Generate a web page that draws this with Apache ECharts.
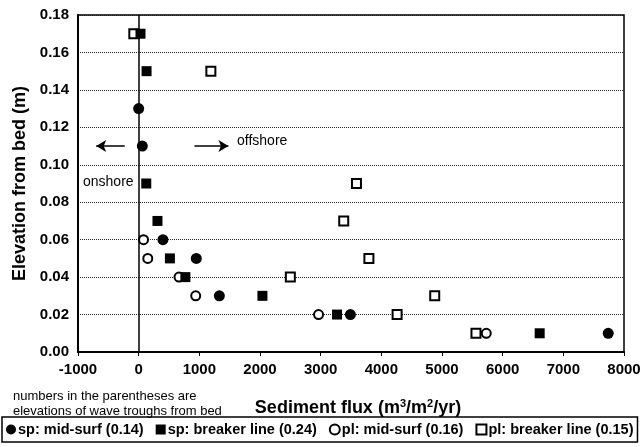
<!DOCTYPE html>
<html>
<head>
<meta charset="utf-8">
<title>Sediment flux vs elevation</title>
<script src="https://cdn.jsdelivr.net/npm/echarts@6/dist/echarts.min.js"></script>
<style>
  html, body { margin: 0; padding: 0; background: #fff; }
  #chart { width: 644px; height: 447px; }
</style>
</head>
<body>
<div id="chart"></div>
<script>
// data: [flux, elevation]
var spMid = [[0, 0.13], [60, 0.11], [400, 0.06], [950, 0.05], [1330, 0.03], [3490, 0.02], [7740, 0.01]];
var spBreaker = [[30, 0.17], [130, 0.15], [125, 0.09], [310, 0.07], [515, 0.05], [770, 0.04], [2040, 0.03], [3270, 0.02], [6610, 0.01]];
var plMid = [[80, 0.06], [150, 0.05], [665, 0.04], [940, 0.03], [2965, 0.02], [5730, 0.01]];
var plBreaker = [[-80, 0.17], [1190, 0.15], [3590, 0.09], [3380, 0.07], [3795, 0.05], [2500, 0.04], [4880, 0.03], [4260, 0.02], [5560, 0.01]];
var seriesNames = ['sp: mid-surf (0.14)', 'sp: breaker line (0.24)', 'pl: mid-surf (0.16)', 'pl: breaker line (0.15)'];

var chart = echarts.init(document.getElementById('chart'));
var font = 'Arial, "Liberation Sans", sans-serif';

var option = {
    animation: false,
    textStyle: { fontFamily: font },
    grid: { left: 78, right: 20, top: 15, bottom: 95, show: true, borderColor: '#000', borderWidth: 1.5 },
    xAxis: {
        type: 'value', min: -1000, max: 8000, interval: 1000,
        name: '{b|Sediment flux (m}{s|3}{b|/m}{s|2}{b|/yr)}',
        nameLocation: 'middle', nameGap: 46,
        nameTextStyle: {
            padding: [0, 0, 0, 14],
            rich: {
                b: { fontSize: 18, fontWeight: 'bold', color: '#000', fontFamily: font },
                s: { fontSize: 11, fontWeight: 'bold', color: '#000', fontFamily: font, verticalAlign: 'top', padding: [0, 0, 9, 0] }
            }
        },
        axisLine: { onZero: false, lineStyle: { color: '#000', width: 2 } },
        axisTick: { show: true, length: 4, lineStyle: { color: '#000' } },
        axisLabel: { color: '#000', fontSize: 15, fontWeight: 'bold', margin: 10,
            formatter: function (v) { return String(v); } },
        splitLine: { show: false }
    },
    yAxis: {
        type: 'value', min: 0, max: 0.18, interval: 0.02,
        name: 'Elevation from bed (m)', nameLocation: 'middle', nameGap: 44,
        nameTextStyle: { fontSize: 18, fontWeight: 'bold', color: '#000' },
        axisLine: { onZero: false, lineStyle: { color: '#000', width: 2 } },
        axisTick: { show: false },
        axisLabel: { color: '#000', fontSize: 15, fontWeight: 'bold', margin: 9,
            formatter: function (v) { return v.toFixed(2); } },
        splitLine: { show: true, lineStyle: { color: '#222', type: 'dotted', width: 1 } }
    },
    legend: {
        left: 2, top: 417, width: 640,
        padding: [5, 4, 5, 4], itemGap: 12, itemWidth: 10, itemHeight: 10,
        borderColor: '#000', borderWidth: 1.5,
        textStyle: { fontSize: 14.5, fontWeight: 'bold', color: '#000', padding: [0, 0, 0, -3] },
        data: seriesNames
    },
    series: [
        {
            name: seriesNames[0], type: 'scatter', data: spMid,
            symbol: 'circle', symbolSize: 11,
            itemStyle: { color: '#000', opacity: 1 },
            z: 5,
            markLine: {
                silent: true, symbol: ['none', 'none'], label: { show: false },
                lineStyle: { color: '#000', type: 'solid', width: 1.5 },
                data: [{ xAxis: 0 }]
            }
        },
        {
            name: seriesNames[1], type: 'scatter', data: spBreaker,
            symbol: 'rect', symbolSize: 10,
            itemStyle: { color: '#000', opacity: 1 },
            z: 5,
            markLine: {
                silent: true, label: { show: false }, symbol: ['none', 'arrow'], symbolSize: [9, 10],
                lineStyle: { color: '#000', type: 'solid', width: 1.5 },
                data: [
                    [{ coord: [-230, 0.11] }, { coord: [-700, 0.11] }],
                    [{ coord: [920, 0.11] }, { coord: [1480, 0.11] }]
                ]
            }
        },
        {
            name: seriesNames[2], type: 'scatter', data: plMid,
            symbol: 'circle', symbolSize: 9,
            itemStyle: { color: '#fff', borderColor: '#000', borderWidth: 2, opacity: 1 },
            z: 4
        },
        {
            name: seriesNames[3], type: 'scatter', data: plBreaker,
            symbol: 'rect', symbolSize: 9,
            itemStyle: { color: '#fff', borderColor: '#000', borderWidth: 2, opacity: 1 },
            z: 4
        }
    ],
    graphic: [
        { type: 'text', left: 237, top: 134, style: { text: 'offshore', fontSize: 14, fill: '#000', fontFamily: font } },
        { type: 'text', left: 83, top: 175, style: { text: 'onshore', fontSize: 14, fill: '#000', fontFamily: font } },
        { type: 'text', left: 13, top: 389, style: { text: 'numbers in the parentheses are\nelevations of wave troughs from bed', fontSize: 13, lineHeight: 15, fill: '#000', fontFamily: font } }
    ]
};

chart.setOption(option);
</script>
</body>
</html>
